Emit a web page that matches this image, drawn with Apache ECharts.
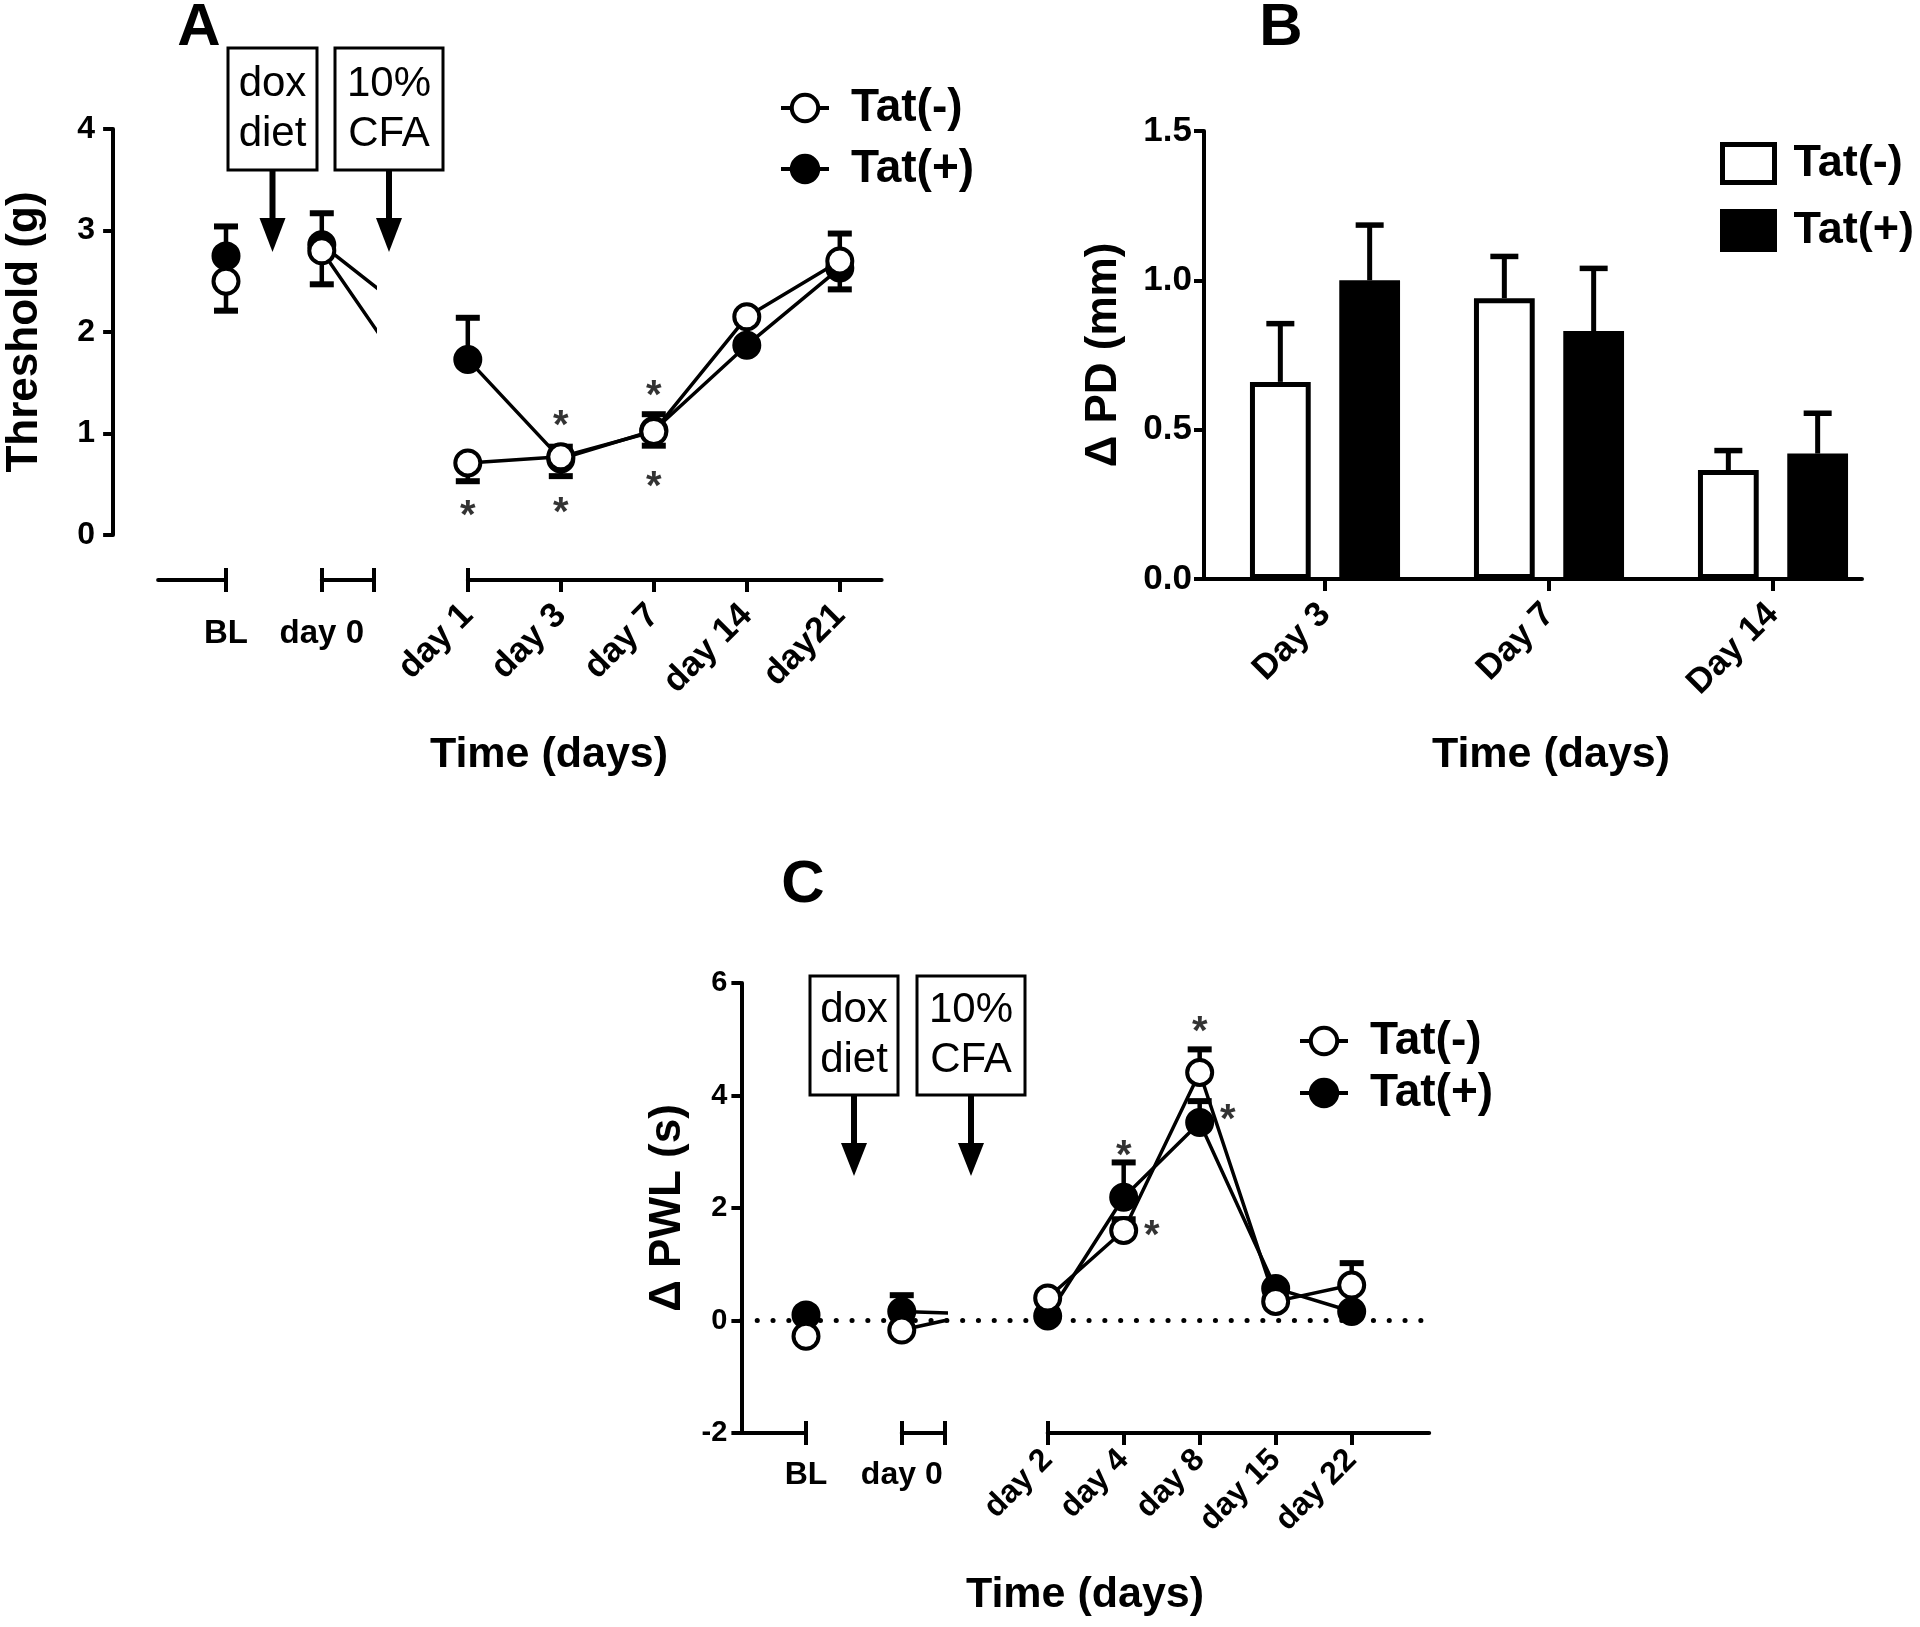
<!DOCTYPE html>
<html><head><meta charset="utf-8">
<script src="https://cdn.jsdelivr.net/npm/echarts@6/dist/echarts.min.js"></script>
<style>html,body{margin:0;padding:0;background:#fff}#c{width:1920px;height:1627px}</style>
</head><body><div id="c"></div>
<script>
// ---------- Panel A : Threshold (g) ----------
const catsA = ['BL', 'day 0', 'day 1', 'day 3', 'day 7', 'day 14', 'day21'];
const posA = [0, 1.03, 2.6, 3.6, 4.6, 5.6, 6.6];
const tatMinusA = [2.50, 2.80, 0.71, 0.77, 1.02, 2.15, 2.70];
const tatMinusSemA = [0.29, 0.33, 0.18, 0.19, 0.14, 0.05, 0.28];
const tatPlusA = [2.75, 2.86, 1.73, 0.75, 1.03, 1.87, 2.63];
const tatPlusSemA = [0.29, 0.31, 0.41, 0.12, 0.16, 0.05, 0.34];
const starsA = [['day 1', 0.27], ['day 3', 1.15], ['day 3', 0.30], ['day 7', 1.45], ['day 7', 0.55]];
// ---------- Panel B : delta PD (mm) ----------
const catsB = ['Day 3', 'Day 7', 'Day 14'];
const tatMinusB = [0.66, 0.94, 0.365];
const tatMinusSemB = [0.195, 0.14, 0.065];
const tatPlusB = [1.00, 0.83, 0.42];
const tatPlusSemB = [0.185, 0.21, 0.135];
// ---------- Panel C : delta PWL (s) ----------
const catsC = ['BL', 'day 0', 'day 2', 'day 4', 'day 8', 'day 15', 'day 22'];
const posC = [0, 1.26, 3.18, 4.18, 5.18, 6.18, 7.18];
const tatMinusC = [-0.28, -0.17, 0.40, 1.60, 4.41, 0.34, 0.63];
const tatMinusSemC = [0.08, 0.08, 0.08, 0.20, 0.41, 0.08, 0.39];
const tatPlusC = [0.10, 0.16, 0.08, 2.19, 3.52, 0.57, 0.16];
const tatPlusSemC = [0.08, 0.29, 0.08, 0.62, 0.38, 0.08, 0.08];
const starsC = [['day 4', 3.06, 'top'], ['day 4', 1.64, 'right'], ['day 8', 5.28, 'top'], ['day 8', 3.70, 'right']];

// ---------- layout ----------
const FONT = "'Liberation Sans', Arial, Helvetica, sans-serif";
const K = '#000';
const unitA = 93, oxA = 226, topA = 129, hA = 406, offA = 45;
const segA = [[-0.73, 0], [1.03, 1.59], [2.6, 7.05]];
const unitC = 76, oxC = 806, topC = 983, hC = 450;
const segC = [[-0.85, 0], [1.26, 1.83], [3.18, 8.2]];
const gridOf = (ox, u, a, b, top, h) => ({left: ox + a * u, width: (b - a) * u, top: top, height: h});

const labelFmt = (pos, cats) => v => { const i = pos.findIndex(p => Math.abs(p - v) < 1e-6); return i >= 0 ? cats[i] : ''; };
const pts = (pos, vals) => pos.map((p, i) => [p, vals[i]]);
const lineW = 4;

function segXAxis(gi, seg, ticks, labels, pos, cats, offset, rotate, margin, size) {
  return {type: 'value', gridIndex: gi, min: seg[0], max: seg[1], position: 'bottom', offset: offset,
    axisLine: {show: true, onZero: false, lineStyle: {color: K, width: lineW}},
    axisTick: {show: true, inside: false, length: 12, customValues: ticks, lineStyle: {color: K, width: lineW}},
    axisLabel: {show: true, customValues: labels, formatter: labelFmt(pos, cats), rotate: rotate, margin: margin,
      fontSize: size, fontWeight: 'bold', color: K, fontFamily: FONT},
    splitLine: {show: false}};
}
function decoXAxis(gi, seg, ticks, offset) {
  return {type: 'value', gridIndex: gi, min: seg[0], max: seg[1], position: 'bottom', offset: offset,
    axisLine: {show: false, onZero: false},
    axisTick: {show: true, inside: true, length: 12, customValues: ticks, lineStyle: {color: K, width: lineW}},
    axisLabel: {show: false}, splitLine: {show: false}};
}
function hiddenX(gi, seg) { return {type: 'value', gridIndex: gi, min: seg[0], max: seg[1], show: false, axisLine: {onZero: false}}; }
function hiddenY(gi, min, max) { return {type: 'value', gridIndex: gi, min: min, max: max, show: false, axisLine: {onZero: false}}; }
function visY(gi, min, max, interval, name, nameGap, offset, fmt, margin, size) {
  return {type: 'value', gridIndex: gi, min: min, max: max, interval: interval, position: 'left', offset: offset,
    name: name, nameLocation: 'middle', nameRotate: 90, nameGap: nameGap,
    nameTextStyle: {fontSize: 44, fontWeight: 'bold', color: K, fontFamily: FONT},
    axisLine: {show: true, onZero: false, lineStyle: {color: K, width: lineW}},
    axisTick: {show: true, length: 10, lineStyle: {color: K, width: lineW}},
    axisLabel: {fontSize: size, fontWeight: 'bold', color: K, fontFamily: FONT, margin: margin, formatter: fmt},
    splitLine: {show: false}};
}

const bandB = 224;
const grids = [
  gridOf(oxA, unitA, segA[0][0], segA[2][1], topA, hA),
  gridOf(oxA, unitA, segA[0][0], segA[0][1], topA, hA),
  gridOf(oxA, unitA, segA[1][0], segA[1][1], topA, hA),
  gridOf(oxA, unitA, segA[2][0], segA[2][1], topA, hA),
  {left: 1213, width: bandB * catsB.length, top: 131, height: 448},
  gridOf(oxC, unitC, segC[0][0], segC[2][1], topC, hC),
  gridOf(oxC, unitC, segC[0][0], segC[0][1], topC, hC),
  gridOf(oxC, unitC, segC[1][0], segC[1][1], topC, hC),
  gridOf(oxC, unitC, segC[2][0], segC[2][1], topC, hC),
  {left: 1200, width: 662, top: 131, height: 448}
];

const xAxes = [
  hiddenX(0, [segA[0][0], segA[2][1]]),
  decoXAxis(0, [segA[0][0], segA[2][1]], [posA[0], posA[1], segA[1][1], posA[2]], offA),
  segXAxis(1, segA[0], [posA[0]], [posA[0]], posA, catsA, offA, 0, 37, 33),
  segXAxis(2, segA[1], [posA[1], segA[1][1]], [posA[1]], posA, catsA, offA, 0, 37, 33),
  segXAxis(3, segA[2], posA.slice(2), posA.slice(2), posA, catsA, offA, 45, 30, 35),
  {type: 'category', gridIndex: 4, data: catsB, position: 'bottom',
    axisLine: {show: false, onZero: false},
    axisTick: {show: true, alignWithLabel: true, length: 12, lineStyle: {color: K, width: lineW}},
    axisLabel: {interval: 0, rotate: 45, margin: 30, fontSize: 35, fontWeight: 'bold', color: K, fontFamily: FONT}},
  hiddenX(5, [segC[0][0], segC[2][1]]),
  decoXAxis(5, [segC[0][0], segC[2][1]], [posC[0], posC[1], segC[1][1], posC[2]], 0),
  segXAxis(6, segC[0], [posC[0]], [posC[0]], posC, catsC, 0, 0, 26, 32),
  segXAxis(7, segC[1], [posC[1], segC[1][1]], [posC[1]], posC, catsC, 0, 0, 26, 32),
  segXAxis(8, segC[2], posC.slice(2), posC.slice(2), posC, catsC, 0, 45, 22, 32),
  {type: 'value', gridIndex: 9, min: 0, max: 1, position: 'bottom',
    axisLine: {show: true, onZero: false, lineStyle: {color: K, width: lineW}},
    axisTick: {show: false}, axisLabel: {show: false}, splitLine: {show: false}}
];

const yAxes = [
  visY(0, 0, 4, 1, 'Threshold (g)', 66, offA, v => String(v), 18, 32),
  hiddenY(1, 0, 4), hiddenY(2, 0, 4), hiddenY(3, 0, 4),
  visY(4, 0, 1.5, 0.5, '\u0394 PD (mm)', 78, 9, v => v.toFixed(1), 12, 35),
  visY(5, -2, 6, 2, '\u0394 PWL (s)', 52, 0, v => String(v), 14, 29),
  hiddenY(6, -2, 6), hiddenY(7, -2, 6), hiddenY(8, -2, 6),
  hiddenY(9, 0, 1.5)
];

function lineSeries(name, xi, yi, data, fill, z) {
  return {type: 'line', name: name, xAxisIndex: xi, yAxisIndex: yi, data: data, symbol: 'circle', symbolSize: 25,
    showSymbol: true, showAllSymbol: true, clip: true, z: z, silent: true,
    lineStyle: {color: K, width: 3.5}, itemStyle: {color: fill, borderColor: K, borderWidth: 4},
    emphasis: {disabled: true}};
}
function errValue(dir) {
  return function (params, api) {
    const x = api.value(0), m = api.value(1), s = api.value(2);
    const p0 = api.coord([x, m]), p1 = api.coord([x, m + dir * s]);
    return {type: 'group', children: [
      {type: 'line', shape: {x1: p0[0], y1: p0[1], x2: p1[0], y2: p1[1]}, style: {stroke: K, lineWidth: 4.5}},
      {type: 'line', shape: {x1: p1[0] - 12, y1: p1[1], x2: p1[0] + 12, y2: p1[1]}, style: {stroke: K, lineWidth: 6}}
    ]};
  };
}
const catGapB = 0.33, barGapB = 0.47;
function errBar(sign) {
  return function (params, api) {
    const i = api.value(0), m = api.value(1), s = api.value(2);
    const band = api.size([1, 0])[0];
    const bw = band * (1 - catGapB) / (2 + barGapB);
    const off = sign * bw * (1 + barGapB) / 2;
    const p0 = api.coord([i, m]), p1 = api.coord([i, m + s]);
    const x = p0[0] + off;
    return {type: 'group', children: [
      {type: 'line', shape: {x1: x, y1: p0[1], x2: x, y2: p1[1]}, style: {stroke: K, lineWidth: 5}},
      {type: 'line', shape: {x1: x - 14, y1: p1[1], x2: x + 14, y2: p1[1]}, style: {stroke: K, lineWidth: 5.5}}
    ]};
  };
}
function errSeries(name, xi, yi, pos, mean, sem, dir) {
  return {type: 'custom', name: name, xAxisIndex: xi, yAxisIndex: yi, z: 1, silent: true,
    data: pos.map((p, i) => [p, mean[i], sem[i]]), renderItem: errValue(dir)};
}
function starSeries(xi, yi, pos, cats, stars, extra) {
  const s = {type: 'scatter', xAxisIndex: xi, yAxisIndex: yi, symbol: 'circle', symbolSize: 1, z: 6, silent: true,
    itemStyle: {color: 'rgba(0,0,0,0)'},
    data: stars.map(st => ({value: [pos[cats.indexOf(st[0])], st[1]],
      label: {show: true, position: 'inside', formatter: '*', offset: st[2] === 'right' ? [28, 9] : [0, 9],
        fontSize: 40, fontWeight: 'bold', color: K, fontFamily: FONT}}))};
  return Object.assign(s, extra || {});
}

const series = [];
// Panel A lines (per axis segment, clipped)
[[ 'Tat(+)', tatPlusA, K, 3 ], [ 'Tat(-)', tatMinusA, '#fff', 4 ]].forEach(([n, v, f, z]) => {
  const d = pts(posA, v);
  series.push(lineSeries(n, 2, 1, d, f, z));
  series.push(lineSeries(n, 3, 2, d.slice(1), f, z));
  series.push(lineSeries(n, 4, 3, d.slice(1), f, z));
});
series.push(errSeries('A+ sem', 0, 0, posA, tatPlusA, tatPlusSemA, 1));
series.push(errSeries('A- sem', 0, 0, posA, tatMinusA, tatMinusSemA, -1));
series.push(starSeries(0, 0, posA, catsA, starsA));
// Panel B bars
series.push({type: 'bar', name: 'Tat(-)', xAxisIndex: 5, yAxisIndex: 4, data: tatMinusB, silent: true,
  barCategoryGap: (catGapB * 100) + '%', barGap: (barGapB * 100) + '%', z: 2,
  itemStyle: {color: '#fff', borderColor: K, borderWidth: 5}});
series.push({type: 'bar', name: 'Tat(+)', xAxisIndex: 5, yAxisIndex: 4, data: tatPlusB, silent: true,
  barCategoryGap: (catGapB * 100) + '%', barGap: (barGapB * 100) + '%', z: 2,
  itemStyle: {color: K, borderColor: K, borderWidth: 5}});
series.push({type: 'custom', name: 'B- sem', xAxisIndex: 5, yAxisIndex: 4, z: 3, silent: true,
  data: catsB.map((c, i) => [i, tatMinusB[i], tatMinusSemB[i]]), renderItem: errBar(-1)});
series.push({type: 'custom', name: 'B+ sem', xAxisIndex: 5, yAxisIndex: 4, z: 3, silent: true,
  data: catsB.map((c, i) => [i, tatPlusB[i], tatPlusSemB[i]]), renderItem: errBar(1)});
// Panel C lines
[[ 'Tat(+)', tatPlusC, K, 3 ], [ 'Tat(-)', tatMinusC, '#fff', 4 ]].forEach(([n, v, f, z]) => {
  const d = pts(posC, v);
  series.push(lineSeries(n, 8, 6, d, f, z));
  series.push(lineSeries(n, 9, 7, d.slice(1), f, z));
  series.push(lineSeries(n, 10, 8, d.slice(1), f, z));
});
series.push(errSeries('C+ sem', 6, 5, posC, tatPlusC, tatPlusSemC, 1));
series.push(errSeries('C- sem', 6, 5, posC, tatMinusC, tatMinusSemC, 1));
series.push(starSeries(6, 5, posC, catsC, starsC, {
  markLine: {silent: true, symbol: ['none', 'none'], z: 1, animation: false, label: {show: false},
    lineStyle: {color: K, width: 5, type: [0.1, 15.7], cap: 'round'}, data: [{yAxis: 0}]}}));

// legends
const legText = {fontSize: 46, fontWeight: 'bold', color: K, fontFamily: FONT, padding: [0, 0, 0, 17]};
function lineLegend(left, top, gap) {
  return {orient: 'vertical', left: left, top: top, padding: 0, itemWidth: 48, itemHeight: 33, itemGap: gap,
    selectedMode: false, textStyle: legText, lineStyle: {color: K, width: 4},
    data: [{name: 'Tat(-)', itemStyle: {color: '#fff', borderColor: K, borderWidth: 4}},
           {name: 'Tat(+)', itemStyle: {color: K, borderColor: K, borderWidth: 4}}]};
}
const legends = [
  lineLegend(779, 85, 15),
  {orient: 'vertical', left: 1720, top: 141, padding: 0, itemWidth: 52, itemHeight: 38, itemGap: 22,
    selectedMode: false, textStyle: Object.assign({}, legText, {fontSize: 45, padding: [0, 0, 0, 14]}),
    data: [{name: 'Tat(-)', icon: 'rect', itemStyle: {color: '#fff', borderColor: K, borderWidth: 5}},
           {name: 'Tat(+)', icon: 'rect', itemStyle: {color: K, borderColor: K, borderWidth: 5}}]},
  lineLegend(1298, 1018, 6)
];

// annotations (text + boxes with arrows)
const graphics = [];
function addText(text, x, y, size) {
  graphics.push({type: 'text', x: x, y: y, z: 20, silent: true,
    style: {text: text, fontSize: size, fontWeight: 'bold', fontFamily: FONT, fill: K, align: 'center', verticalAlign: 'middle'}});
}
function addBox(x, y, w, h, label, headTop, tip) {
  const cx = x + w / 2;
  graphics.push({type: 'rect', z: 20, silent: true, shape: {x: x, y: y, width: w, height: h}, style: {fill: '#fff', stroke: K, lineWidth: 3}});
  graphics.push({type: 'text', z: 21, silent: true, x: cx, y: y + h / 2,
    style: {text: label, fontSize: 42, fontFamily: FONT, fill: K, align: 'center', verticalAlign: 'middle', lineHeight: 50}});
  graphics.push({type: 'line', z: 20, silent: true, shape: {x1: cx, y1: y + h, x2: cx, y2: headTop + 2}, style: {stroke: K, lineWidth: 6}});
  graphics.push({type: 'polygon', z: 20, silent: true, shape: {points: [[cx - 13, headTop], [cx + 13, headTop], [cx, tip]]}, style: {fill: K}});
}
addText('A', 199, 28, 60);
addText('B', 1281, 28, 60);
addText('C', 803, 885, 60);
addText('Time (days)', 549, 755, 43);
addText('Time (days)', 1551, 755, 43);
addText('Time (days)', 1085, 1595, 43);
addBox(228, 48, 89, 122, 'dox\ndiet', 218, 252);
addBox(335, 48, 108, 122, '10%\nCFA', 218, 252);
addBox(810, 976, 88, 119, 'dox\ndiet', 1143, 1176);
addBox(917, 976, 108, 119, '10%\nCFA', 1143, 1176);

const chart = echarts.init(document.getElementById('c'), null, {renderer: 'canvas'});
chart.setOption({
  animation: false,
  backgroundColor: '#fff',
  textStyle: {fontFamily: FONT},
  grid: grids, xAxis: xAxes, yAxis: yAxes, series: series, legend: legends, graphic: graphics
});
</script></body></html>
